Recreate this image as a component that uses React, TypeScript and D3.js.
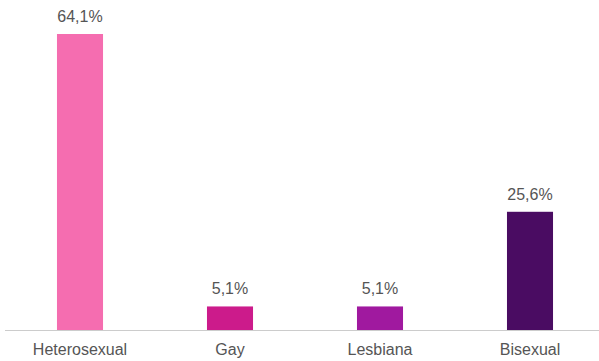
import React from "react";
import * as d3 from "d3";

const categories = ["Heterosexual", "Gay", "Lesbiana", "Bisexual"];
const values = [64.1, 5.1, 5.1, 25.6];
const colors = ["#f56db0", "#cc1b8b", "#a0199f", "#4a0c62"];

const W = 599;
const H = 361;
const baseY = 330;

export default function App() {
  const x = d3
    .scaleBand<string>()
    .domain(categories)
    .range([5, 605])
    .paddingInner(0.693)
    .paddingOuter(0.3465);
  const y = d3.scaleLinear().domain([0, 64.1]).range([baseY, 34]);
  const fmt = (v: number) => v.toFixed(1).replace(".", ",") + "%";
  return (
    <svg
      width={W}
      height={H}
      style={{ position: "absolute", left: 0, top: 0 }}
      fontFamily="'Liberation Sans', Arial, sans-serif"
    >
      <rect x={0} y={0} width={W} height={H} fill="#fff" />
      {categories.map((c, i) => (
        <g key={c}>
          <rect
            x={x(c)}
            y={y(values[i])}
            width={x.bandwidth()}
            height={baseY - y(values[i])}
            fill={colors[i]}
          />
          <text
            x={(x(c) as number) + x.bandwidth() / 2}
            y={y(values[i]) - 12}
            textAnchor="middle"
            fontSize={16}
            fill="#555"
          >
            {fmt(values[i])}
          </text>
          <text
            x={(x(c) as number) + x.bandwidth() / 2}
            y={355}
            textAnchor="middle"
            fontSize={16}
            fill="#555"
          >
            {c}
          </text>
        </g>
      ))}
      <line x1={5} x2={W} y1={baseY + 0.5} y2={baseY + 0.5} stroke="#ccc" strokeWidth={1} />
    </svg>
  );
}
